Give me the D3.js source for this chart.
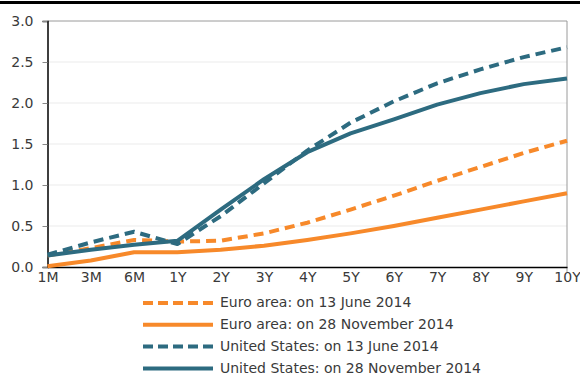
<!DOCTYPE html>
<html>
<head>
<meta charset="utf-8">
<script src="https://cdn.jsdelivr.net/npm/d3@7/dist/d3.min.js"></script>
<style>
  html, body { margin: 0; padding: 0; background: #fff; }
  svg { display: block; font-family: "DejaVu Sans", Verdana, sans-serif; }
  .tick text { fill: #3a3a3a; font-size: 14px; }
  .legend text { fill: #3a3a3a; font-size: 14px; }
</style>
</head>
<body>
<svg id="chart" width="580" height="376"></svg>
<script>
// Maturities on the x axis
const categories = ["1M", "3M", "6M", "1Y", "2Y", "3Y", "4Y", "5Y", "6Y", "7Y", "8Y", "9Y", "10Y"];

// Yield curves (percentages per annum)
const euroJune = [0.14, 0.23, 0.33, 0.31, 0.32, 0.41, 0.54, 0.70, 0.87, 1.05, 1.22, 1.39, 1.54];
const euroNov  = [0.01, 0.08, 0.18, 0.18, 0.21, 0.26, 0.33, 0.41, 0.50, 0.60, 0.70, 0.80, 0.90];
const usJune   = [0.15, 0.30, 0.43, 0.28, 0.62, 1.02, 1.42, 1.76, 2.02, 2.24, 2.41, 2.56, 2.68];
const usNov    = [0.14, 0.21, 0.27, 0.32, 0.70, 1.07, 1.40, 1.63, 1.80, 1.98, 2.12, 2.23, 2.30];

// Y axis tick values
const yTicks = [0, 0.5, 1.0, 1.5, 2.0, 2.5, 3.0];

const seriesNames = [
  "Euro area: on 13 June 2014",
  "Euro area: on 28 November 2014",
  "United States: on 13 June 2014",
  "United States: on 28 November 2014"
];

const ORANGE = "#f7892a";
const TEAL = "#2d6b80";

const series = [
  { name: seriesNames[0], values: euroJune, color: ORANGE, dashed: true },
  { name: seriesNames[1], values: euroNov,  color: ORANGE, dashed: false },
  { name: seriesNames[2], values: usJune,   color: TEAL,   dashed: true },
  { name: seriesNames[3], values: usNov,    color: TEAL,   dashed: false }
];

const svg = d3.select("#chart");
const plotLeft = 47.5, plotRight = 567, plotTop = 21, plotBottom = 267;

const x = d3.scalePoint().domain(categories).range([plotLeft, plotRight]);
const y = d3.scaleLinear().domain([0, 3]).range([plotBottom, plotTop]);

// Heavy rule across the top of the figure
svg.append("rect").attr("x", 0).attr("y", 1).attr("width", 580).attr("height", 3).attr("fill", "#000");

// Horizontal gridlines
svg.append("g").selectAll("line")
  .data(yTicks.filter(d => d > 0 && d < 3))
  .join("line")
  .attr("x1", plotLeft).attr("x2", plotRight)
  .attr("y1", d => y(d)).attr("y2", d => y(d))
  .attr("stroke", "#ebebeb").attr("stroke-width", 1);

// Frame: top and right edges in grey
svg.append("line").attr("x1", plotLeft).attr("x2", plotRight).attr("y1", y(3)).attr("y2", y(3))
  .attr("stroke", "#9a9a9a").attr("stroke-width", 1);
svg.append("line").attr("x1", plotRight).attr("x2", plotRight).attr("y1", y(3)).attr("y2", plotBottom + 5)
  .attr("stroke", "#9a9a9a").attr("stroke-width", 1);

// Y axis
const yAxis = svg.append("g")
  .attr("transform", `translate(${plotLeft},0)`)
  .call(d3.axisLeft(y).tickValues(yTicks).tickFormat(d3.format(".1f")).tickSize(5).tickPadding(9));
yAxis.select(".domain").attr("stroke", "#000").attr("stroke-width", 1.5);
yAxis.selectAll(".tick line").attr("stroke", "#888");
yAxis.selectAll(".tick text").style("font-family", "DejaVu Sans, Verdana, sans-serif");

// X axis
const xAxis = svg.append("g")
  .attr("transform", `translate(0,${plotBottom})`)
  .call(d3.axisBottom(x).tickSize(0).tickPadding(5));
xAxis.select(".domain").attr("stroke", "#000").attr("stroke-width", 1.5);
xAxis.selectAll(".tick text").style("font-family", "DejaVu Sans, Verdana, sans-serif");

// Curves
const line = d3.line()
  .x((d, i) => x(categories[i]))
  .y(d => y(d))
  .curve(d3.curveLinear);

svg.append("g").selectAll("path")
  .data(series)
  .join("path")
  .attr("d", d => line(d.values))
  .attr("fill", "none")
  .attr("stroke", d => d.color)
  .attr("stroke-width", 4)
  .attr("stroke-linejoin", "round")
  .attr("stroke-dasharray", d => d.dashed ? "10,6" : null);

// Legend
const legend = svg.append("g").attr("class", "legend");
const rows = legend.selectAll("g")
  .data(series)
  .join("g")
  .attr("transform", (d, i) => `translate(0,${303 + i * 21.8})`);
rows.append("line")
  .attr("x1", 143).attr("x2", 213).attr("y1", 0).attr("y2", 0)
  .attr("stroke", d => d.color)
  .attr("stroke-width", 4)
  .attr("stroke-dasharray", d => d.dashed ? "10,5" : null);
rows.append("text")
  .attr("x", 220).attr("y", 0).attr("dy", "0.3em")
  .text(d => d.name);
</script>
</body>
</html>
